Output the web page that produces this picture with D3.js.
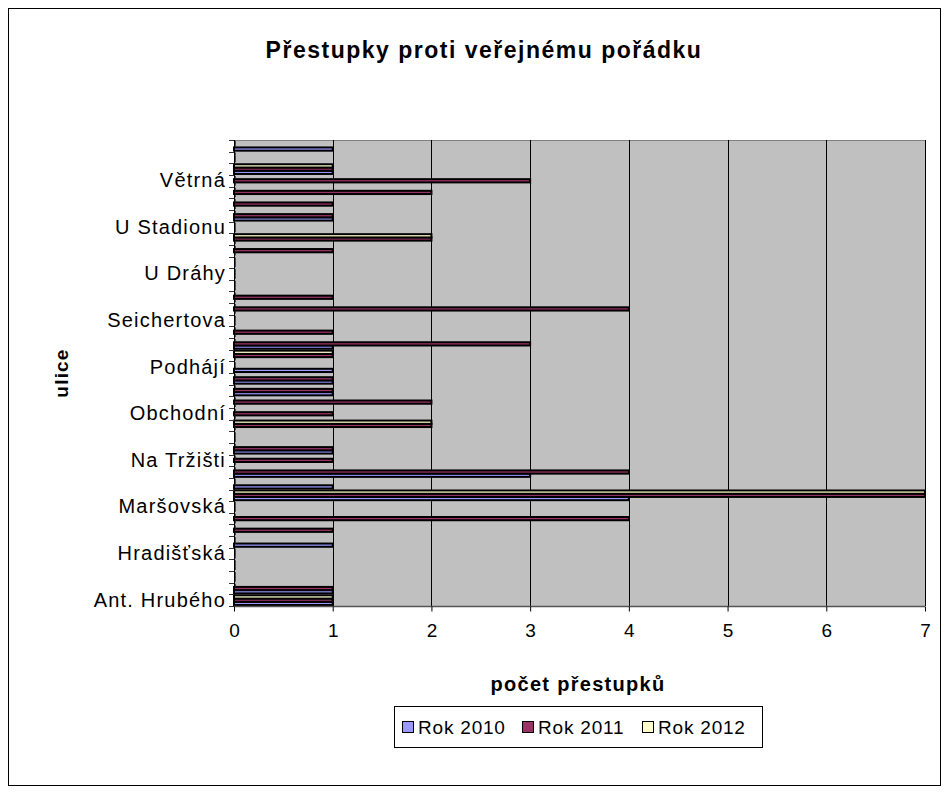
<!DOCTYPE html>
<html>
<head>
<meta charset="utf-8">
<script src="https://cdn.jsdelivr.net/npm/d3@7"></script>
<style>
  body { margin: 0; background: #fff; }
  svg text { font-family: 'Liberation Sans', Arial, sans-serif; }
</style>
</head>
<body>
<svg id="chart" width="948" height="792"></svg>
<script>
'use strict';

// streets, bottom to top (only every 4th one is labelled on the axis)
let streets = [
    'Ant. Hrubého', 'Bezručova', 'Dlouhá', 'Havlíčkova',
    'Hradišťská', 'Husova', 'Jiráskova', 'Komenského',
    'Maršovská', 'Masarykovo nám.', 'Mírové nám.', 'Na Nivách',
    'Na Tržišti', 'Nádražní', 'Nerudova', 'Nová',
    'Obchodní', 'Palackého', 'Pivovarská', 'Plavecká',
    'Podhájí', 'Pražská', 'Revoluční', 'Sadová',
    'Seichertova', 'Smetanova', 'Sokolská', 'Školní',
    'U Dráhy', 'U Hřiště', 'U Kostela', 'U Parku',
    'U Stadionu', 'Úzká', 'Vančurova', 'Veselá',
    'Větrná', 'Zahradní', 'Zámecká', 'Žižkova'
];

let series = ['Rok 2010', 'Rok 2011', 'Rok 2012'];
let seriesColors = ['#9999FF', '#993366', '#FFFFCC'];

let rok2010 = [1, 1, 0, 0, 0, 1, 0, 0, 0, 4, 1, 3, 0, 1, 0, 0, 0, 0, 1, 1,
               1, 0, 1, 0, 0, 0, 0, 0, 0, 0, 0, 0, 0, 1, 0, 0, 0, 1, 0, 1];
let rok2011 = [1, 1, 0, 0, 0, 0, 1, 4, 0, 7, 0, 4, 1, 1, 0, 2, 1, 2, 1, 1,
               0, 1, 3, 1, 0, 4, 1, 0, 0, 0, 1, 2, 0, 1, 1, 2, 3, 1, 0, 0];
let rok2012 = [1, 0, 0, 0, 0, 0, 0, 0, 0, 7, 0, 0, 0, 0, 0, 2, 0, 0, 0, 0,
               0, 1, 0, 0, 0, 0, 0, 0, 0, 0, 0, 2, 0, 0, 0, 0, 0, 1, 0, 0];

let xTicks = [0, 1, 2, 3, 4, 5, 6, 7];

let values = [rok2010, rok2011, rok2012];

let svg = d3.select('#chart');
let plot = {left: 234, right: 925, top: 140, bottom: 606};

// chart frame
svg.append('rect')
    .attr('x', 8.5).attr('y', 8.5)
    .attr('width', 932).attr('height', 777)
    .attr('fill', '#fff')
    .attr('stroke', '#000');

svg.append('text')
    .attr('x', 484).attr('y', 58)
    .attr('text-anchor', 'middle')
    .attr('letter-spacing', 1.5)
    .style('font-size', '23px')
    .style('font-weight', 'bold')
    .text('Přestupky proti veřejnému pořádku');

let x = d3.scaleLinear().domain([0, 7]).range([plot.left, plot.right]);
let y = d3.scaleBand().domain(streets).range([plot.bottom, plot.top]);
let inner = d3.scaleBand().domain(series)
    .range([y.bandwidth(), 0])
    .paddingInner(0)
    .paddingOuter(0.3);

// plot background
svg.append('rect')
    .attr('x', plot.left).attr('y', plot.top)
    .attr('width', plot.right - plot.left).attr('height', plot.bottom - plot.top)
    .attr('fill', '#C0C0C0');

svg.append('path')
    .attr('d', 'M' + plot.left + ',' + (plot.top + 0.5) + 'H' + (plot.right + 0.5) + 'V' + plot.bottom)
    .attr('fill', 'none')
    .attr('stroke', '#808080');

// vertical gridlines
svg.append('g')
    .selectAll('line')
    .data(xTicks.slice(1))
    .join('line')
    .attr('x1', function (d) { return Math.round(x(d)) + 0.5; })
    .attr('x2', function (d) { return Math.round(x(d)) + 0.5; })
    .attr('y1', plot.top)
    .attr('y2', plot.bottom)
    .attr('stroke', '#000');

// bars
let rows = [];
streets.forEach(function (s, i) {
    series.forEach(function (name, j) {
        rows.push({street: s, series: name, value: values[j][i], color: seriesColors[j]});
    });
});

svg.append('g')
    .selectAll('rect')
    .data(rows.filter(function (d) { return d.value > 0; }))
    .join('rect')
    .attr('x', x(0))
    .attr('y', function (d) { return y(d.street) + inner(d.series); })
    .attr('width', function (d) { return x(d.value) - x(0); })
    .attr('height', inner.bandwidth())
    .attr('fill', function (d) { return d.color; })
    .attr('stroke', '#000')
    .attr('stroke-width', 2);

// zero values leave a small stub on the axis
svg.append('g')
    .selectAll('line')
    .data(rows.filter(function (d) { return d.value === 0; }))
    .join('line')
    .attr('x1', x(0) + 1).attr('x2', x(0) + 1)
    .attr('y1', function (d) { return y(d.street) + inner(d.series); })
    .attr('y2', function (d) { return y(d.street) + inner(d.series) + inner.bandwidth(); })
    .attr('stroke', '#222')
    .attr('stroke-width', 1.5);

// y axis
let yAxis = svg.append('g')
    .attr('transform', 'translate(' + plot.left + ',0)')
    .call(d3.axisLeft(y)
        .tickValues(streets.filter(function (d, i) { return i % 4 === 0; }))
        .tickSize(0)
        .tickPadding(8));
yAxis.select('.domain').remove();
yAxis.selectAll('text')
    .attr('letter-spacing', 1.2)
    .style('font-size', '20px')
    .attr('fill', '#000');

svg.append('g')
    .selectAll('line')
    .data(d3.range(streets.length + 1))
    .join('line')
    .attr('x1', plot.left - 5)
    .attr('x2', plot.left)
    .attr('y1', function (i) { return Math.round(plot.bottom - i * y.step()) + 0.5; })
    .attr('y2', function (i) { return Math.round(plot.bottom - i * y.step()) + 0.5; })
    .attr('stroke', '#333');

svg.append('line')
    .attr('x1', plot.left + 0.5).attr('x2', plot.left + 0.5)
    .attr('y1', plot.top).attr('y2', plot.bottom)
    .attr('stroke', '#000');

// x axis
let xAxis = svg.append('g')
    .attr('transform', 'translate(0,' + (plot.bottom + 0.5) + ')')
    .call(d3.axisBottom(x).tickValues(xTicks).tickSize(5).tickPadding(12).tickFormat(d3.format('d')));
xAxis.select('.domain')
    .attr('d', 'M' + plot.left + ',0H' + plot.right)
    .attr('stroke', '#555')
    .attr('stroke-width', 1.5);
xAxis.selectAll('text')
    .style('font-size', '19px')
    .attr('fill', '#000');

svg.append('text')
    .attr('x', 578).attr('y', 691)
    .attr('text-anchor', 'middle')
    .attr('letter-spacing', 1.3)
    .style('font-size', '20px')
    .style('font-weight', 'bold')
    .text('počet přestupků');

svg.append('text')
    .attr('transform', 'translate(68,373)rotate(-90)')
    .attr('text-anchor', 'middle')
    .attr('letter-spacing', 1.2)
    .style('font-size', '19px')
    .style('font-weight', 'bold')
    .text('ulice');

// legend
let legend = svg.append('g').attr('transform', 'translate(394,706)');
legend.append('rect')
    .attr('x', 0.5).attr('y', 0.5)
    .attr('width', 368).attr('height', 41)
    .attr('fill', '#fff')
    .attr('stroke', '#000');

let item = legend.selectAll('g.item')
    .data(series)
    .join('g')
    .attr('class', 'item')
    .attr('transform', function (d, i) { return 'translate(' + (8 + i * 120) + ',0)'; });

item.append('rect')
    .attr('x', 0.5).attr('y', 15.5)
    .attr('width', 11).attr('height', 11)
    .attr('fill', function (d, i) { return seriesColors[i]; })
    .attr('stroke', '#000');

item.append('text')
    .attr('x', 16).attr('y', 28)
    .attr('letter-spacing', 0.8)
    .style('font-size', '19px')
    .text(function (d) { return d; });
</script>
</body>
</html>
